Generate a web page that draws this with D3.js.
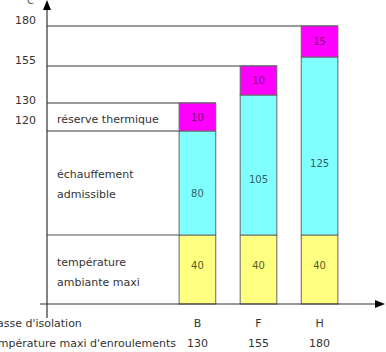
<!DOCTYPE html>
<html><head><meta charset="utf-8">
<script src="https://cdn.jsdelivr.net/npm/d3@7"></script>
<style>
html,body{margin:0;padding:0;background:#fff;}
svg{display:block;font-family:"DejaVu Sans",sans-serif;}
</style></head>
<body>
<svg id="c" width="386" height="352"></svg>
<script>
// ---- data ----
const classes = ["B", "F", "H"];
const ambient = [40, 40, 40];
const heating = [80, 105, 125];
const reserve = [10, 10, 15];
const maxTemp = [130, 155, 180];
const tickLabels = [180, 155, 130, 120];
const rowLabels = [["réserve thermique"], ["échauffement", "admissible"], ["température", "ambiante maxi"]];
const bottomLabels = ["Classe d'isolation", "Température maxi d'enroulements"];
const unit = "°C";

const svg = d3.select("#c");
const colors = {amb: "#ffff80", heat: "#80ffff", res: "#ff00ff"};
const textCol = {amb: "#5a5a20", heat: "#2f5f66", res: "#7a007a"};

// schematic (non-linear) temperature axis, piecewise linear through the stack breakpoints
const tops = classes.map((c, i) => ambient[i] + heating[i]);
const yDomain = [0, 40, tops[0], maxTemp[0], tops[1], maxTemp[1], tops[2], maxTemp[2]];
const y = d3.scaleLinear().domain(yDomain).range([304, 235, 131, 103, 95, 66, 57, 26]);
const x = d3.scaleBand().domain(classes).range([173, 344]).paddingInner(0.4).paddingOuter(0.1);
const axisX = 47;

const lineCol = "#7a7a7a";
// horizontal reference lines
tickLabels.forEach(t => {
  let xEnd;
  const idx = maxTemp.indexOf(t);
  if (idx >= 0) xEnd = x(classes[idx]) + x.bandwidth();
  else xEnd = x(classes[0]);
  svg.append("line").attr("x1", axisX).attr("x2", xEnd).attr("y1", y(t)).attr("y2", y(t))
    .attr("stroke", lineCol).attr("stroke-width", 1.5);
});
// 40 separator
svg.append("line").attr("x1", axisX).attr("x2", x(classes[0])).attr("y1", y(40)).attr("y2", y(40))
  .attr("stroke", "#555").attr("stroke-width", 1.2);

// bars
const segs = [];
classes.forEach((c, i) => {
  segs.push({c, key: "amb", v0: 0, v1: ambient[i], v: ambient[i]});
  segs.push({c, key: "heat", v0: ambient[i], v1: ambient[i] + heating[i], v: heating[i]});
  segs.push({c, key: "res", v0: ambient[i] + heating[i], v1: ambient[i] + heating[i] + reserve[i], v: reserve[i]});
});
svg.selectAll("rect.seg").data(segs).join("rect").attr("class", "seg")
  .attr("x", d => x(d.c)).attr("width", x.bandwidth())
  .attr("y", d => y(d.v1)).attr("height", d => y(d.v0) - y(d.v1))
  .attr("fill", d => colors[d.key]).attr("stroke", "#666").attr("stroke-width", 1);

svg.selectAll("text.val").data(segs).join("text").attr("class", "val")
  .attr("x", d => x(d.c) + x.bandwidth() / 2)
  .attr("y", d => d.key === "heat" ? y(d.v0) - 0.4 * (y(d.v0) - y(d.v1)) : (y(d.v0) + y(d.v1)) / 2 - (d.key === "amb" ? 4 : 0))
  .attr("dy", "0.35em").attr("text-anchor", "middle")
  .attr("font-size", 10).attr("fill", d => textCol[d.key]).text(d => d.v);

// axes
svg.append("line").attr("x1", axisX).attr("x2", axisX).attr("y1", 8).attr("y2", 318)
  .attr("stroke", "#333").attr("stroke-width", 1.2);
svg.append("path").attr("d", `M${axisX},0 L${axisX - 4},10 L${axisX + 4},10 Z`).attr("fill", "#000");
svg.append("line").attr("x1", 40).attr("x2", 376).attr("y1", y(0)).attr("y2", y(0))
  .attr("stroke", "#333").attr("stroke-width", 1.2);
svg.append("path").attr("d", `M385,${y(0)} L375,${y(0) - 4} L375,${y(0) + 4} Z`).attr("fill", "#000");

// tick labels
const tickOffset = {180: -6, 155: -6, 130: -3, 120: -11};
svg.selectAll("text.tick").data(tickLabels).join("text").attr("class", "tick")
  .attr("x", 36).attr("y", d => y(d) + tickOffset[d]).attr("dy", "0.35em")
  .attr("text-anchor", "end").attr("font-size", 11).attr("fill", "#333").text(d => d);
svg.append("text").attr("x", 22).attr("y", 4).attr("font-size", 10).attr("fill", "#555").text(unit);

// row labels
const rowCenters = [(y(maxTemp[0]) + y(tops[0])) / 2 + 2, (y(tops[0]) + y(40)) / 2 + 1, (y(40) + y(0)) / 2 + 3];
rowLabels.forEach((lines, r) => {
  lines.forEach((t, k) => {
    svg.append("text").attr("x", 57)
      .attr("y", rowCenters[r] + (k - (lines.length - 1) / 2) * 20).attr("dy", "0.35em")
      .attr("font-size", 11).attr("fill", "#333").text(t);
  });
});

// bottom labels
const b2 = svg.append("text").attr("x", 176).attr("y", 343).attr("dy", "0.35em")
  .attr("text-anchor", "end").attr("font-size", 11).attr("fill", "#333").text(bottomLabels[1]);
const startX = 176 - b2.node().getComputedTextLength();
svg.append("text").attr("x", startX).attr("y", 323).attr("dy", "0.35em")
  .attr("font-size", 11).attr("fill", "#333").text(bottomLabels[0]);
svg.selectAll("text.cls").data(classes).join("text").attr("class", "cls")
  .attr("x", d => x(d) + x.bandwidth() / 2).attr("y", 323).attr("dy", "0.35em")
  .attr("text-anchor", "middle").attr("font-size", 11).attr("fill", "#333").text(d => d);
svg.selectAll("text.mt").data(classes).join("text").attr("class", "mt")
  .attr("x", d => x(d) + x.bandwidth() / 2).attr("y", 343).attr("dy", "0.35em")
  .attr("text-anchor", "middle").attr("font-size", 11).attr("fill", "#333").text((d, i) => maxTemp[i]);
</script>
</body></html>
